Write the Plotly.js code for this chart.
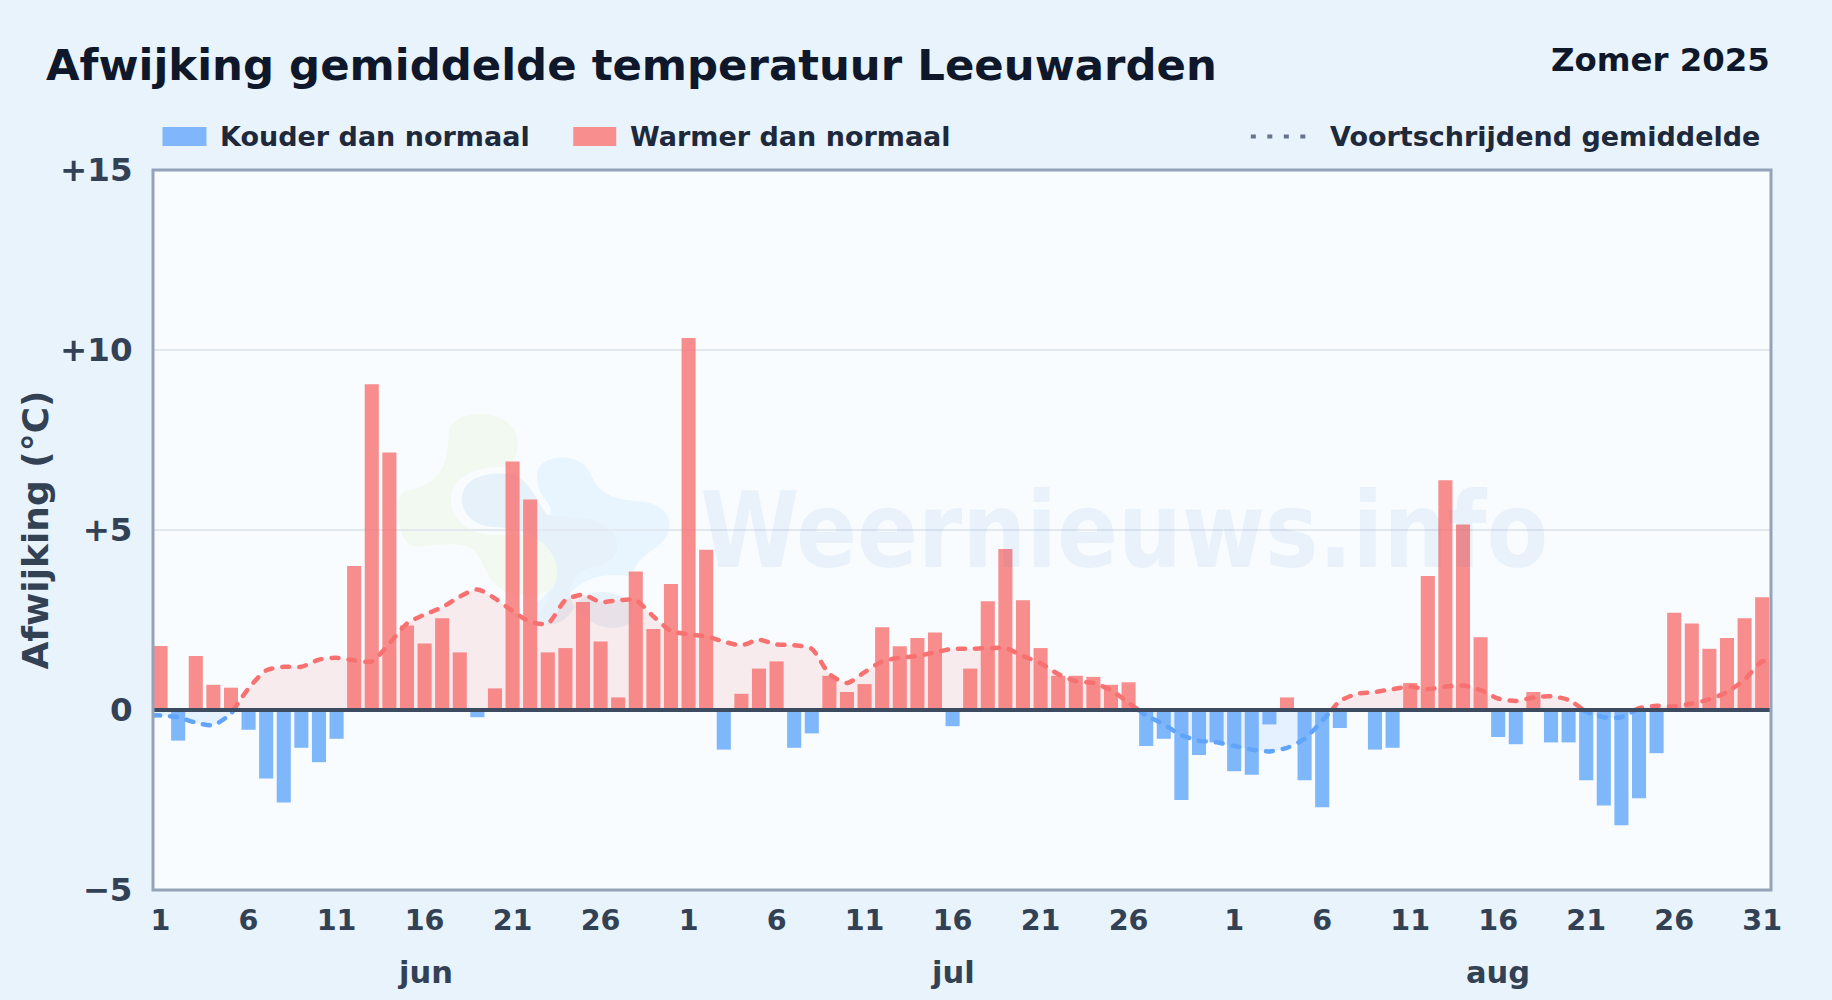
<!DOCTYPE html>
<html>
<head>
<meta charset="utf-8">
<script src="https://cdn.plot.ly/plotly-3.0.1.min.js"></script>
<style>html,body{margin:0;padding:0;background:#e8f3fc;overflow:hidden}#chart{width:1832px;height:1000px}</style>
</head>
<body>
<div id="chart"></div>
<script>
const juni = [1.78,-0.85,1.5,0.7,0.62,-0.55,-1.9,-2.57,-1.05,-1.45,-0.8,4.0,9.05,7.15,2.35,1.85,2.55,1.6,-0.2,0.6,6.9,5.85,1.6,1.72,3.0,1.9,0.35,3.85,2.25,3.5];
const juli = [10.33,4.45,-1.1,0.45,1.15,1.35,-1.05,-0.65,0.95,0.5,0.72,2.3,1.77,2.0,2.15,-0.45,1.15,3.02,4.47,3.05,1.72,0.95,0.95,0.92,0.7,0.77,-1.0,-0.8,-2.5,-1.25,-0.9];
const augustus = [-1.7,-1.8,-0.4,0.35,-1.95,-2.7,-0.5,0,-1.1,-1.05,0.75,3.72,6.38,5.15,2.02,-0.75,-0.95,0.5,-0.9,-0.9,-1.95,-2.65,-3.2,-2.45,-1.2,2.7,2.4,1.7,2.0,2.55,3.13];
const gemJuni = [-0.15,-0.2,-0.35,-0.42,-0.1,0.6,1.1,1.2,1.2,1.4,1.45,1.38,1.35,1.85,2.4,2.65,2.85,3.15,3.35,3.1,2.75,2.45,2.4,3.05,3.2,3.0,3.05,3.05,2.6,2.2];
const gemJuli = [2.1,2.05,1.9,1.8,1.95,1.82,1.8,1.7,1.0,0.75,1.05,1.35,1.45,1.5,1.6,1.7,1.7,1.72,1.72,1.5,1.3,1.0,0.8,0.75,0.55,0.2,-0.15,-0.4,-0.7,-0.85,-0.9];
const gemAugustus = [-1.0,-1.1,-1.15,-1.05,-0.8,-0.3,0.25,0.45,0.5,0.58,0.65,0.58,0.65,0.68,0.55,0.32,0.25,0.35,0.38,0.28,-0.05,-0.2,-0.2,0.05,0.12,0.1,0.18,0.3,0.5,0.85,1.35];
const maanden = ["jun","jul","aug"];
const maandPositie = [15,45,76];
const dagLabels = ["1","6","11","16","21","26","1","6","11","16","21","26","1","6","11","16","21","26","31"];
const dagPosities = [0,5,10,15,20,25,30,35,40,45,50,55,61,66,71,76,81,86,91];
const yTicks = [-5,0,5,10,15];
const yLabels = ["\u22125","0","+5","+10","+15"];

const afwijking = juni.concat(juli, augustus);
const gemiddelde = gemJuni.concat(gemJuli, gemAugustus);
const dagen = afwijking.map((_, i) => i);

const L = 152.5, R = 1771.5, T = 170, B = 890;
const X0 = -0.43, X1 = 91.5;
const px = x => (x - L) / (R - L);
const py = y => (B - y) / (B - T);

// split the running mean in a warm and a cold part at the zero line;
// the first and last value run on to the edges of the plot
function splitLine(sign) {
  const xs = [], ys = [];
  const first = gemiddelde[0], last = gemiddelde[gemiddelde.length - 1];
  if (first * sign >= 0) { xs.push(X0); ys.push(first); }
  gemiddelde.forEach((v, i) => {
    if (i > 0) {
      const p = gemiddelde[i - 1];
      if (p * v < 0) {
        const c = i - 1 + p / (p - v);
        xs.push(c); ys.push(0);
        if (v * sign < 0) { xs.push(null); ys.push(null); }
      }
    }
    if (v * sign >= 0) { xs.push(i); ys.push(v); }
  });
  if (last * sign >= 0) { xs.push(X1); ys.push(last); }
  return { xs, ys };
}
const warm = splitLine(1), koud = splitLine(-1);

const RED = "#f87171", BLUE = "#60a5fa", TICK = "#334155", LEG = "#1e293b", TITLE = "#0f172a";
const FONT = "DejaVu Sans";

const traces = [
  { type: "bar", x: dagen, y: afwijking.map(v => v < 0 ? v : null), width: 0.8, name: "Kouder dan normaal",
    marker: { color: BLUE, opacity: 0.8, line: { width: 0 } }, showlegend: false },
  { type: "bar", x: dagen, y: afwijking.map(v => v > 0 ? v : null), width: 0.8, name: "Warmer dan normaal",
    marker: { color: RED, opacity: 0.8, line: { width: 0 } }, showlegend: false },
  { type: "scatter", mode: "lines", x: koud.xs, y: koud.ys, fill: "tozeroy", fillcolor: "rgba(96,165,250,0.12)",
    line: { color: BLUE, width: 4.5, dash: "7px,10px", shape: "spline", smoothing: 0.7 }, name: "Voortschrijdend gemiddelde (koud)", showlegend: false },
  { type: "scatter", mode: "lines", x: warm.xs, y: warm.ys, fill: "tozeroy", fillcolor: "rgba(248,113,113,0.12)",
    line: { color: RED, width: 4.5, dash: "7px,10px", shape: "spline", smoothing: 0.7 }, name: "Voortschrijdend gemiddelde", showlegend: false }
];

const logoSvg = `<svg xmlns="http://www.w3.org/2000/svg" viewBox="0 0 1200 780" width="1200" height="780">
<path fill="#f2f9f0" d="M205,130 C205,60 380,40 410,140 C420,190 400,228 360,232 C270,232 212,270 212,330 C212,400 290,440 350,435 C470,425 552,460 552,530 C545,600 470,630 400,610 C330,600 320,540 290,490 C260,450 180,465 110,470 C50,475 35,320 70,305 C130,290 205,280 205,130 Z"/>
<path fill="#e9f5fe" d="M470,250 C475,190 610,180 635,260 C660,320 720,330 790,335 C880,345 890,430 830,470 C790,500 770,510 755,560 C640,540 590,590 570,610 C530,660 480,680 470,690 L470,640 C510,600 550,560 552,520 C550,460 520,430 480,410 C510,390 520,360 500,335 C480,310 468,290 470,250 Z"/>
<path fill="#e7f1f9" d="M245,320 C250,260 330,240 400,255 C440,265 470,330 500,375 C560,385 650,370 700,430 C730,480 700,520 640,530 C590,540 560,590 570,620 C590,690 690,740 750,700 L760,640 C700,600 640,590 590,640 C560,700 510,720 470,690 C480,640 560,580 520,500 C490,440 420,415 350,412 C280,410 240,370 245,320 Z"/>
</svg>`;

const shapes = [
  { type: "line", xref: "paper", x0: 0, x1: 1, yref: "y", y0: 0, y1: 0, line: { color: "#3d4b60", width: 3.8 }, layer: "above" },
  { type: "rect", xref: "paper", yref: "paper", x0: 0, x1: 1, y0: 0, y1: 1, line: { color: "#94a3b8", width: 3 }, fillcolor: "rgba(0,0,0,0)", layer: "above" },
  { type: "rect", xref: "paper", yref: "paper", x0: px(162), x1: px(206), y0: py(127), y1: py(146), line: { width: 0 }, fillcolor: "#80b6fb" },
  { type: "rect", xref: "paper", yref: "paper", x0: px(573), x1: px(616), y0: py(127), y1: py(146), line: { width: 0 }, fillcolor: "#f98e8e" },
  { type: "line", xref: "paper", yref: "paper", x0: px(1251), x1: px(1306), y0: py(136.5), y1: py(136.5), line: { color: "#64748b", width: 4, dash: "5px,11.5px" } }
];

const ann = (text, x, y, size, color, anchor, extra) => Object.assign({
  text, xref: "paper", yref: "paper", x: px(x), y: py(y), xanchor: anchor, yanchor: "middle", showarrow: false,
  font: { family: FONT, size, color, weight: 700 }
}, extra || {});

const WATERMARK = "Weernieuws.info";
const annotations = [
  ann("Zomer 2025", 1773, 59.5, 32.4, TITLE, "right"),
  ann("Kouder dan normaal", 217.5, 137, 27, LEG, "left"),
  ann("Warmer dan normaal", 628, 137, 27, LEG, "left"),
  ann("Voortschrijdend gemiddelde", 1328.5, 137, 27, LEG, "left"),
  { text: WATERMARK, xref: "paper", yref: "paper", x: px(1124.5), y: py(530), xanchor: "center", yanchor: "middle", showarrow: false,
    font: { family: FONT, size: 106, color: "rgba(37,120,200,0.07)", weight: 700 } }
].concat(maanden.map((m, i) => ({
  text: m, xref: "x", yref: "paper", x: maandPositie[i], y: py(972), xanchor: "center", yanchor: "middle", showarrow: false,
  font: { family: FONT, size: 30.5, color: TICK, weight: 700 }
})));

const layout = {
  width: 1832, height: 1000,
  margin: { l: L, r: 1832 - R, t: T, b: 1000 - B, pad: 0 },
  paper_bgcolor: "#e8f3fc",
  plot_bgcolor: "#f8fcff",
  barmode: "overlay",
  showlegend: false,
  title: { text: "Afwijking gemiddelde temperatuur Leeuwarden", x: 46 / 1832, xanchor: "left", xref: "container", y: 1 - 65 / 1000, yanchor: "middle", yref: "container",
    font: { family: FONT, size: 43.4, color: TITLE, weight: 700 } },
  xaxis: { type: "linear", range: [X0, X1], tickmode: "array", tickvals: dagPosities, ticktext: dagLabels,
    showgrid: false, zeroline: false, showline: false, ticks: "outside", ticklen: 5, tickcolor: "rgba(0,0,0,0)", tickangle: 0,
    tickfont: { family: FONT, size: 28.6, color: TICK, weight: 700 } },
  yaxis: { range: [-5, 15], tickmode: "array", tickvals: yTicks, ticktext: yLabels,
    showgrid: true, gridcolor: "#e2e8f0", gridwidth: 2, zeroline: false, showline: false, ticks: "outside", ticklen: 13, tickcolor: "rgba(0,0,0,0)",
    tickfont: { family: FONT, size: 32.5, color: TICK, weight: 700 },
    title: { text: "Afwijking (°C)", standoff: 0, font: { family: FONT, size: 36, color: TICK, weight: 700 } } },
  shapes, annotations,
  images: [{ source: "data:image/svg+xml;charset=utf-8," + encodeURIComponent(logoSvg), xref: "paper", yref: "paper",
    x: px(380), y: py(390), sizex: 400 / (R - L), sizey: 260 / (B - T), sizing: "stretch", xanchor: "left", yanchor: "top", layer: "below", opacity: 1 }]
};

Plotly.newPlot("chart", traces, layout, { displayModeBar: false, responsive: false }).then(gd => {
  gd.querySelectorAll(".annotation-text").forEach(t => {
    if (t.textContent === WATERMARK) { t.setAttribute("textLength", "848"); t.setAttribute("lengthAdjust", "spacingAndGlyphs"); }
  });
  gd.querySelectorAll(".scatterlayer .js-line").forEach(p => { p.style.strokeLinecap = "round"; });
});
</script>
</body>
</html>
